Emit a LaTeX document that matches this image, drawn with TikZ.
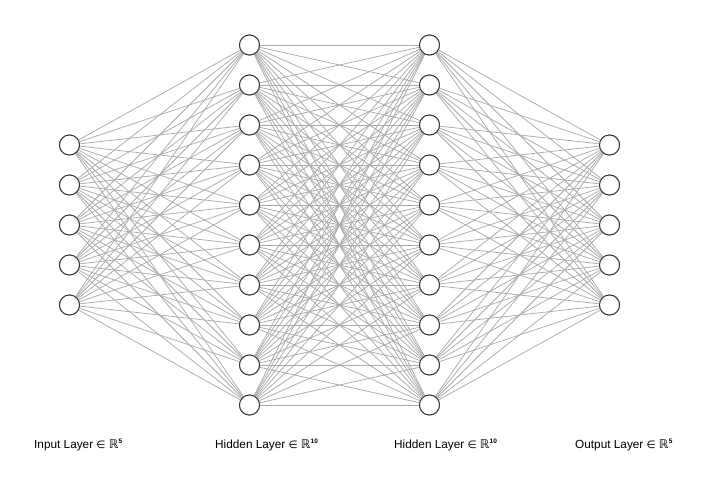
\documentclass[tikz,border=0pt]{standalone}
\usepackage{fontspec}
\setmainfont{Liberation Sans}
\newfontfamily\symfont{DejaVu Sans}
\newcommand{\realsp}[1]{\hspace{3.2pt}{\symfont\fontsize{10.5}{12}\selectfont ∈}\hspace{3.2pt}{\symfont\fontsize{12}{14}\selectfont ℝ}\hspace{0.3pt}\raisebox{4.2pt}{\fontsize{6.5}{8}\selectfont\bfseries #1}}
\begin{document}
\begin{tikzpicture}[x=1pt,y=-1pt,
  neuron/.style={circle,draw=black!80,line width=0.9pt,fill=white,minimum size=20pt,inner sep=0pt},
  conn/.style={draw=black!33,line width=0.75pt},
  layerlabel/.style={anchor=west,font=\fontsize{11.8}{13}\selectfont,inner sep=0pt}]
\useasboundingbox (0,0) rectangle (715,488);
% nodes
\foreach \i in {1,...,5}
  \node[neuron] (I\i) at (69.5,{105+40*\i}) {};
\foreach \i in {1,...,10}
  \node[neuron] (A\i) at (249.5,{5+40*\i}) {};
\foreach \i in {1,...,10}
  \node[neuron] (B\i) at (429.5,{5+40*\i}) {};
\foreach \i in {1,...,5}
  \node[neuron] (O\i) at (609.5,{105+40*\i}) {};
% connections
\foreach \i in {1,...,5}
  \foreach \j in {1,...,10}
    \draw[conn] (I\i) -- (A\j);
\foreach \i in {1,...,10}
  \foreach \j in {1,...,10}
    \draw[conn] (A\i) -- (B\j);
\foreach \i in {1,...,10}
  \foreach \j in {1,...,5}
    \draw[conn] (B\i) -- (O\j);
% redraw nodes on top
\foreach \i in {1,...,5}
  \node[neuron] at (I\i) {};
\foreach \i in {1,...,10}
  \node[neuron] at (A\i) {};
\foreach \i in {1,...,10}
  \node[neuron] at (B\i) {};
\foreach \i in {1,...,5}
  \node[neuron] at (O\i) {};
% labels
\node[layerlabel] (L1) at (34,445) {Input Layer\realsp{5}};
\node[layerlabel] (L2) at (215,445) {Hidden Layer\realsp{10}};
\node[layerlabel] (L3) at (394,445) {Hidden Layer\realsp{10}};
\node[layerlabel] (L4) at (575,445) {Output Layer\realsp{5}};
\end{tikzpicture}
\end{document}
